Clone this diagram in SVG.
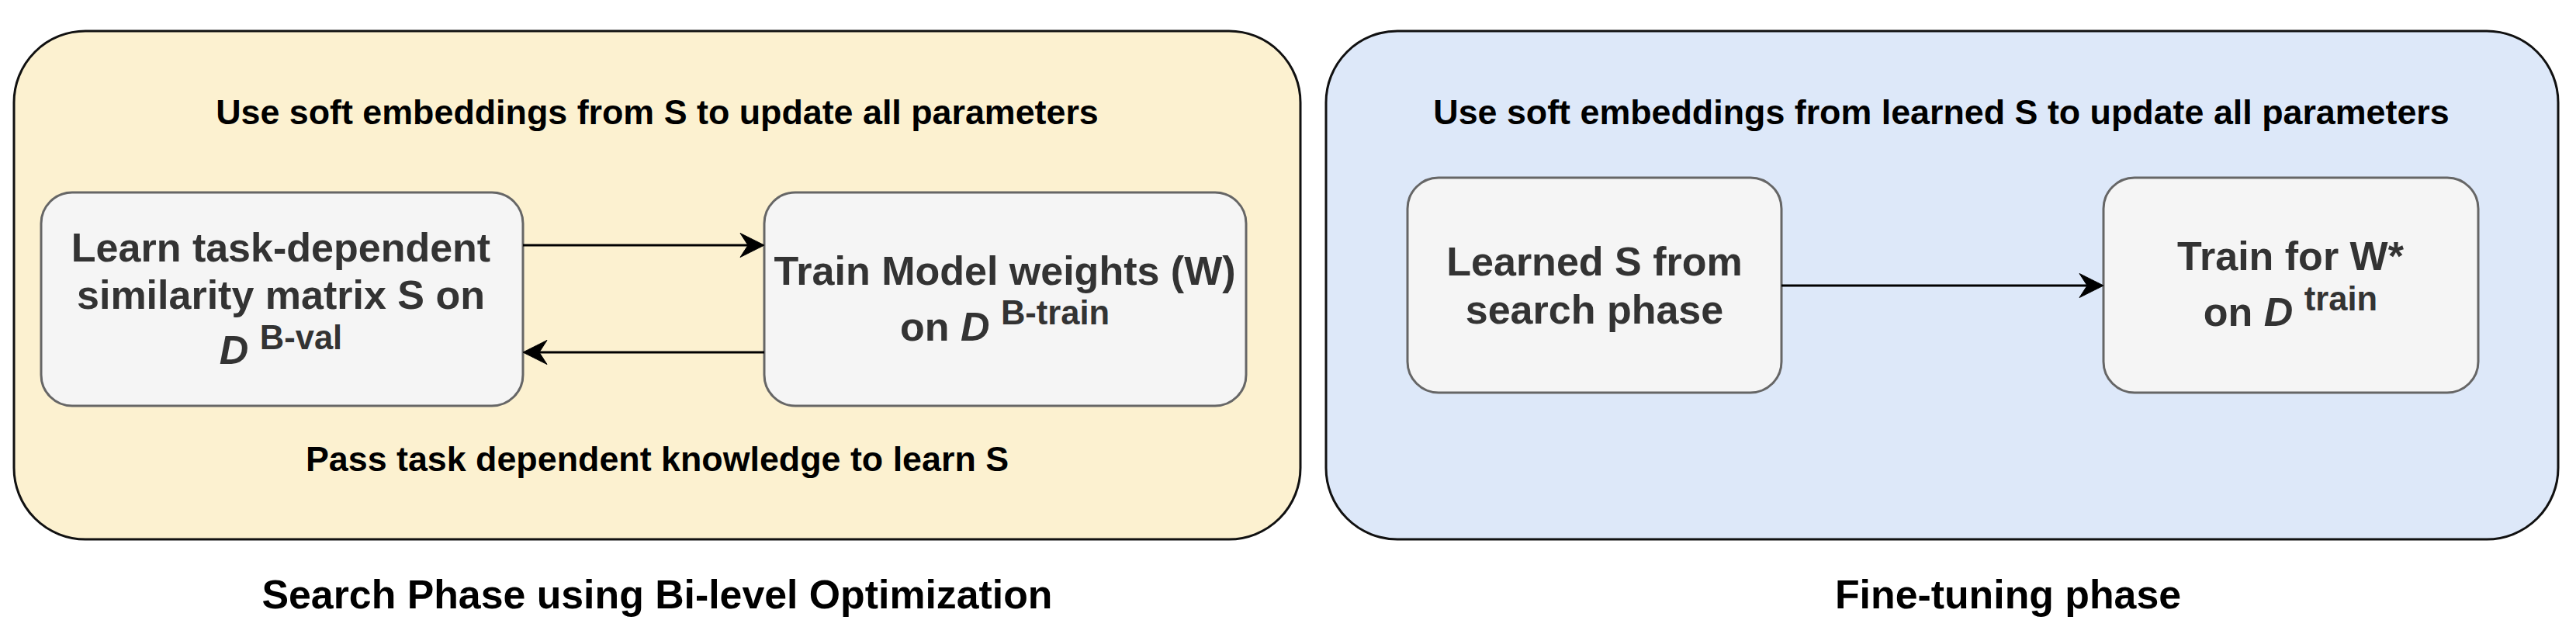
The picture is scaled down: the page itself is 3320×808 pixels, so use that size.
<svg xmlns="http://www.w3.org/2000/svg" width="3320" height="808" viewBox="0 0 3320 808">
  <style>
    .t { font-family: "Liberation Sans", Arial, Helvetica, sans-serif; font-weight: bold; text-anchor: middle; }
    .lbl { font-size: 44.8px; fill: #000000; }
    .cap { font-size: 51.8px; fill: #000000; }
    .nt { font-size: 52px; fill: #333333; }
    .sup { font-size: 43.5px; }
    .it { font-style: italic; }
    .node { fill: #f5f5f5; stroke: #666666; stroke-width: 3; }
    .edge { fill: none; stroke: #000000; stroke-width: 3; }
  </style>
  <defs>
    <marker id="arrow" markerUnits="userSpaceOnUse" viewBox="-32 -17 34 34" refX="-21" refY="0" markerWidth="34" markerHeight="34" orient="auto">
      <path d="M0,0 L-31,-15.5 L-21,0 L-31,15.5 Z" fill="#000000" stroke="#000000" stroke-width="1"/>
    </marker>
  </defs>

  <g id="search-phase">
    <rect x="18" y="40" width="1658" height="655" rx="92" ry="92" fill="#fcf1d0" stroke="#111111" stroke-width="3"/>
    <text class="t lbl" x="847" y="160">Use soft embeddings from S to update all parameters</text>
    <text class="t lbl" x="847" y="607">Pass task dependent knowledge to learn S</text>
  </g>
  <text id="search-caption" class="t cap" x="847" y="784">Search Phase using Bi-level Optimization</text>

  <g id="fine-tuning-phase">
    <rect x="1709" y="40" width="1588" height="655" rx="92" ry="92" fill="#dde8f9" stroke="#111111" stroke-width="3"/>
    <text class="t lbl" x="2502" y="160">Use soft embeddings from learned S to update all parameters</text>
  </g>
  <text id="fine-tuning-caption" class="t cap" x="2588" y="784">Fine-tuning phase</text>

  <g id="learn-s">
    <rect class="node" x="53" y="248" width="621" height="275" rx="40" ry="40"/>
    <text class="t nt" x="362" y="337">Learn task-dependent</text>
    <text class="t nt" x="362" y="398">similarity matrix S on</text>
    <text class="t nt" x="362" y="469"><tspan class="it">D</tspan> <tspan class="sup" dy="-19">B-val</tspan></text>
  </g>

  <g id="train-w">
    <rect class="node" x="985" y="248" width="621" height="275" rx="40" ry="40"/>
    <text class="t nt" x="1295" y="367">Train Model weights (W)</text>
    <text class="t nt" x="1295" y="439">on <tspan class="it">D</tspan> <tspan class="sup" dy="-21">B-train</tspan></text>
  </g>

  <g id="learned-s">
    <rect class="node" x="1814" y="229" width="482" height="277" rx="40" ry="40"/>
    <text class="t nt" x="2055" y="355">Learned S from</text>
    <text class="t nt" x="2055" y="417">search phase</text>
  </g>

  <g id="train-final">
    <rect class="node" x="2711" y="229" width="483" height="277" rx="40" ry="40"/>
    <text class="t nt" x="2952" y="348">Train for W*</text>
    <text class="t nt" x="2952" y="420">on <tspan class="it">D</tspan> <tspan class="sup" dy="-20">train</tspan></text>
  </g>

  <g id="connectors">
    <line class="edge" x1="674" y1="316" x2="964" y2="316" marker-end="url(#arrow)"/>
    <line class="edge" x1="985" y1="454" x2="695" y2="454" marker-end="url(#arrow)"/>
    <line class="edge" x1="2296" y1="368" x2="2690" y2="368" marker-end="url(#arrow)"/>
  </g>
</svg>
